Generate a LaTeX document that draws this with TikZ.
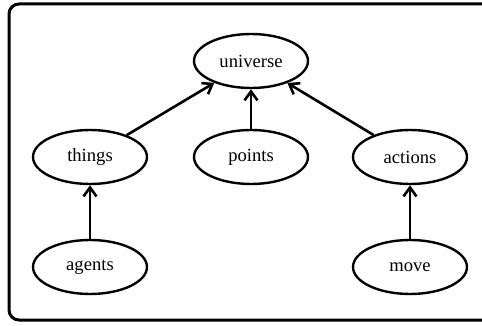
\documentclass[tikz,border=0pt]{standalone}
\usepackage{fontspec}
\setmainfont{Liberation Serif}
\usetikzlibrary{arrows.meta, shapes.geometric}

\begin{document}
\begin{tikzpicture}[x=0.5pt, y=-0.5pt, font=\fontsize{9.3}{11}\selectfont, >={Straight Barb[length=4.5pt, width=6.5pt]}]
                \useasboundingbox (0,0) rectangle (482,326);

                \tikzset{
                    frame/.style = {line width=1.5pt, rounded corners=5pt},
                    concept/.style = {ellipse, draw, line width=1.2pt, minimum width=57pt, minimum height=27pt, inner sep=0pt},
                    isa/.style = {->, line width=1.3pt},
                }

                \draw[frame] (9,4) rectangle (505,320);

                \node[concept] (universe) at (251,61) {universe};
                \node[concept] (things) at (90,157) {things};
                \node[concept] (points) at (251,157) {points};
                \node[concept] (actions) at (410,157) {actions};
                \node[concept] (agents) at (90,267) {agents};
                \node[concept] (move) at (410,267) {move};

                \draw[isa] (things) -- (universe);
                \draw[isa] (points) -- (universe);
                \draw[isa] (actions) -- (universe);
                \draw[isa] (agents) -- (things);
                \draw[isa] (move) -- (actions);

            \end{tikzpicture}
\end{document}
